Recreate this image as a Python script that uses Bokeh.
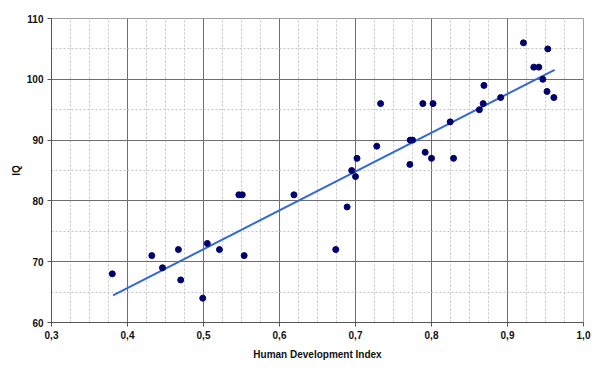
from bokeh.plotting import figure
from bokeh.models import FixedTicker
from bokeh.embed import file_html
from bokeh.resources import INLINE

# ---- data ----
hdi = [0.380, 0.432, 0.446, 0.467, 0.470, 0.499, 0.505, 0.521, 0.5465, 0.551,
       0.5535, 0.619, 0.674, 0.689, 0.695, 0.700, 0.702, 0.728, 0.733, 0.7715,
       0.772, 0.775, 0.7886, 0.7917, 0.800, 0.802, 0.8246, 0.829, 0.863, 0.868,
       0.869, 0.891, 0.921, 0.9346, 0.9412, 0.9465, 0.952, 0.953, 0.961]
iq = [68, 71, 69, 72, 67, 64, 73, 72, 81, 81,
      71, 81, 72, 79, 85, 84, 87, 89, 96, 86,
      90, 90, 96, 88, 87, 96, 93, 87, 95, 96,
      99, 97, 106, 102, 102, 100, 98, 105, 97]

trend_x = [0.381, 0.962]
trend_y = [64.45, 101.55]

x_ticks = [0.3, 0.4, 0.5, 0.6, 0.7, 0.8, 0.9, 1.0]
x_tick_labels = ["0,3", "0,4", "0,5", "0,6", "0,7", "0,8", "0,9", "1,0"]
x_minor = [0.3 + 0.025 * i for i in range(29)]
y_ticks = [60, 70, 80, 90, 100, 110]
y_minor = [60 + 5 * i for i in range(11)]

FONT = "Liberation Sans"

p = figure(width=600, height=374, output_backend="svg", toolbar_location=None,
           x_range=(0.3, 1.0), y_range=(60, 110),
           min_border_left=51, min_border_right=17, min_border_top=18,
           min_border_bottom=52)
p.background_fill_color = "white"
p.border_fill_color = "white"
p.outline_line_color = "#a0a0a0"
p.outline_line_width = 1

p.xaxis.ticker = FixedTicker(ticks=x_ticks, minor_ticks=x_minor)
p.yaxis.ticker = FixedTicker(ticks=y_ticks, minor_ticks=y_minor)
p.xaxis.major_label_overrides = dict(zip(x_ticks, x_tick_labels))

for ax in (p.xaxis[0], p.yaxis[0]):
    ax.axis_line_color = "#555555"
    ax.axis_line_width = 1
    ax.major_tick_line_color = "#555555"
    ax.major_tick_out = 4
    ax.major_tick_in = 0
    ax.minor_tick_line_color = None
    ax.major_label_text_font = FONT
    ax.major_label_text_font_style = "bold"
    ax.major_label_text_font_size = "10px"
    ax.major_label_text_color = "#111111"
    ax.axis_label_text_font = FONT
    ax.axis_label_text_font_style = "bold"
    ax.axis_label_text_font_size = "10px"
    ax.axis_label_text_color = "#111111"
    ax.major_label_standoff = 4

p.xaxis.axis_label = "Human Development Index"
p.yaxis.axis_label = "IQ"
p.xaxis.axis_label_standoff = 7
p.yaxis.axis_label_standoff = 2

for g in (p.xgrid[0], p.ygrid[0]):
    g.grid_line_color = "#6e6e6e"
    g.grid_line_width = 1
    g.minor_grid_line_color = "#c4c4c4"
    g.minor_grid_line_dash = "2 2"
    g.minor_grid_line_width = 1

p.line(trend_x, trend_y, line_color="#3468d8", line_width=2)
p.scatter(hdi, iq, size=6, marker="circle", fill_color="#00006e",
          line_color="#00006e")

open("out.html", "w").write(file_html(p, INLINE))
